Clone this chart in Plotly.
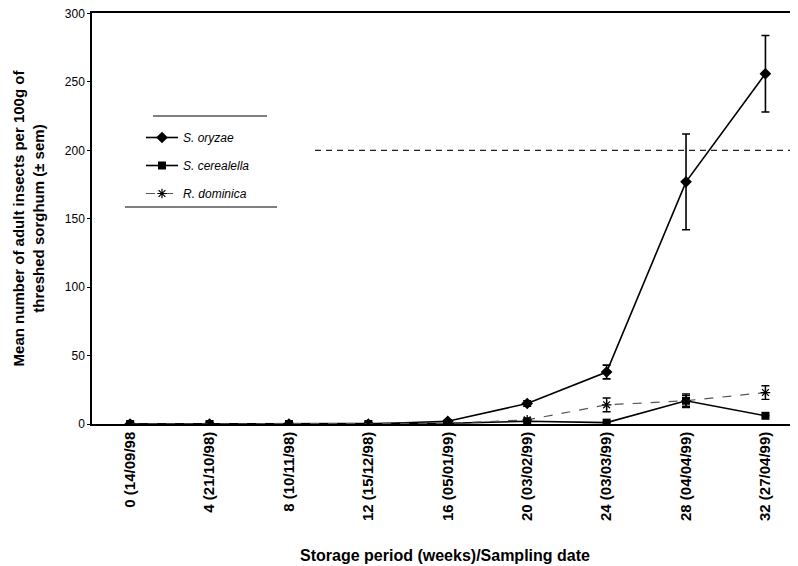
import plotly.graph_objects as go

categories = ["0 (14/09/98", "4 (21/10/98)", "8 (10/11/98)", "12 (15/12/98)", "16 (05/01/99)",
              "20 (03/02/99)", "24 (03/03/99)", "28 (04/04/99)", "32 (27/04/99)"]
s_oryzae = [0, 0, 0, 0, 2, 15, 38, 177, 256]
s_oryzae_err = [0, 0, 0, 0, 0.5, 2, 5, 35, 28]
s_cerealella = [0, 0, 0, 0, 0.5, 2, 1, 17, 6]
s_cerealella_err = [0, 0, 0, 0, 0, 0, 0, 5, 0]
r_dominica = [0, 0, 0, 0, 0.5, 3, 14, 17, 23]
r_dominica_err = [0, 0, 0, 0, 0, 0, 5, 4, 5]
y_ticks = [0, 50, 100, 150, 200, 250, 300]

FONT = "Liberation Sans, Arial, sans-serif"
OFF = 8  # default page body margin
W, H = 798 - OFF, 566 - OFF
# target plot area in window pixels: left 92, top 13, bottom 424, right 798
L, T, R, B = 92 - OFF, 13 - OFF, 0, 566 - 424

def px(xw):
    return (xw - 92) / (798 - 92)

def py(yw):
    return (424 - yw) / (424 - 13)

x = list(range(len(categories)))
fig = go.Figure()
fig.add_trace(go.Scatter(
    x=x, y=s_oryzae, name="<i>S. oryzae</i>", mode="lines+markers", legendgroup="a",
    line=dict(color="black", width=1.6),
    marker=dict(symbol="diamond", size=9, color="black"),
    error_y=dict(type="data", array=s_oryzae_err, color="black", thickness=1.6, width=4),
))
fig.add_trace(go.Scatter(
    x=x, y=s_cerealella, name="<i>S. cerealella</i>", mode="lines+markers", legendgroup="b",
    line=dict(color="black", width=1.6),
    marker=dict(symbol="square", size=8, color="black"),
    error_y=dict(type="data", array=s_cerealella_err, color="black", thickness=1.4, width=4),
))
fig.add_trace(go.Scatter(
    x=x, y=r_dominica, name="<i>R. dominica</i>", mode="lines+markers", legendgroup="c",
    line=dict(color="#555555", width=1.2, dash="dash"),
    marker=dict(symbol="asterisk-open", size=8, color="black", line=dict(width=1.2, color="black")),
    error_y=dict(type="data", array=r_dominica_err, color="black", thickness=1.4, width=4),
))

shapes = [
    dict(type="line", xref="paper", yref="y", x0=px(315), x1=1, y0=200, y1=200,
         line=dict(color="#222222", width=1.2, dash="6px,5px")),
    dict(type="line", xref="paper", yref="paper", x0=px(153), x1=px(267), y0=py(116), y1=py(116),
         line=dict(color="black", width=1.2)),
    dict(type="line", xref="paper", yref="paper", x0=px(125), x1=px(277), y0=py(207), y1=py(207),
         line=dict(color="black", width=1.2)),
]

fig.update_layout(
    width=W, height=H,
    margin=dict(l=L, r=R, t=T, b=B, autoexpand=False),
    paper_bgcolor="white", plot_bgcolor="white",
    font=dict(family=FONT, color="black", size=11),
    showlegend=True,
    legend=dict(x=px(141), y=py(123), xanchor="left", yanchor="top",
                bgcolor="rgba(0,0,0,0)", font=dict(size=12, family=FONT),
                traceorder="grouped", tracegroupgap=9, itemwidth=32),
    shapes=shapes,
    xaxis=dict(
        range=[-0.48, 8.41], tickmode="array", tickvals=x,
        ticktext=["<b>" + c + "</b>" for c in categories],
        tickangle=-90, tickfont=dict(size=15, family=FONT),
        showline=True, linecolor="black", linewidth=1.5, mirror=True,
        ticks="", showgrid=False, zeroline=False, automargin=False,
        title=dict(text="<b>Storage period (weeks)/Sampling date</b>", font=dict(size=16), standoff=30),
    ),
    yaxis=dict(
        range=[0, 300.4], tickmode="array", tickvals=y_ticks,
        tickfont=dict(size=12, family=FONT), ticklabeloverflow="allow",
        showline=True, linecolor="black", linewidth=1.5,
        ticks="outside", ticklen=3, tickcolor="black",
        showgrid=False, zeroline=False, automargin=False,
        title=dict(text="<b>Mean number of adult insects per 100g of<br>threshed sorghum (± sem)</b>",
                   font=dict(size=15), standoff=17),
    ),
)

fig.write_html("out.html")
